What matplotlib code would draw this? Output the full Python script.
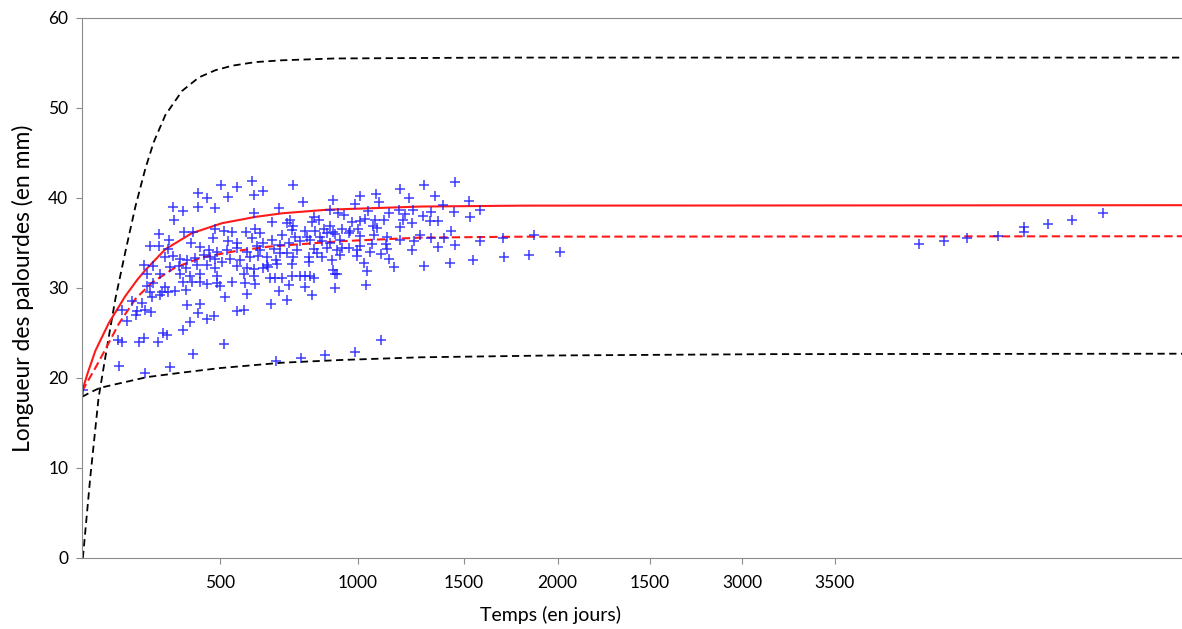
import matplotlib
matplotlib.use("Agg")
import matplotlib.pyplot as plt

plt.rcParams['font.family'] = ['Lato', 'DejaVu Sans']

# observations: temps (jours), longueur (mm)
obs_t = [
    5,
    615, 503, 561, 419, 453, 531, 624, 329, 419, 483, 368, 334, 624, 280, 370, 402, 483, 515, 543,
    594, 628, 247, 281, 317, 394, 474, 528, 561, 616, 313, 428, 459, 489, 525, 561, 598, 634, 301,
    329, 356, 382, 410, 443, 465, 483, 507, 537, 573, 610, 640, 225, 259, 319, 350, 377, 416, 453,
    483, 561, 598, 624, 235, 283, 356, 392, 428, 489, 586, 622,
    235, 259, 301, 368, 398, 428, 453, 489, 501, 543, 592, 628, 247, 289, 313, 338, 377, 519, 598,
    283, 253, 180, 217, 144, 198, 229, 249, 196, 382, 428, 419, 453, 477, 561, 588, 162, 392, 365,
    295, 307, 132, 144, 208, 223, 277, 515, 404, 133, 319, 229,
    767, 656, 801, 912, 1007, 1067, 1076, 1154, 1185, 715, 900, 991, 927, 949, 1036, 1112, 1148,
    1172, 1200, 690, 743, 755, 840, 861, 834, 900, 979, 1009, 1025, 1061, 1094, 1166, 1197, 765,
    761, 809, 846, 878, 910, 943, 973, 1001, 1055, 1070, 1152, 646, 725, 773, 815, 864, 888, 918,
    967, 1009, 1058, 1106, 1154, 1203, 658, 688, 719, 749, 791, 828, 870, 900, 934, 1009, 1051,
    1103, 646, 695, 719, 743, 779, 840, 888, 924, 943, 970, 997, 1045, 1084, 1108, 1197, 670, 704,
    767, 822, 852, 906, 997, 1112, 670, 707, 761, 822, 870, 936, 1021, 1130, 658, 676, 912, 918,
    924, 1033, 682, 701, 725, 761, 791, 809, 828, 840,
    749, 715, 809, 834, 918, 1031, 685, 743, 1085, 991, 882, 794, 704,
    1241, 1352, 1279, 1309, 1402, 1237, 1266, 1348, 1406, 1442, 1261, 1293, 1338, 1227, 1266, 1314,
    1352, 1290, 1442, 1527, 1638, 1241, 1333, 1418, 1529, 1623, 1735,
    3037, 3126, 3211, 3324, 3417, 3417, 3505, 3592, 3704,
]
obs_L = [
    18.7,
    41.9, 41.4, 41.2, 40.6, 40.0, 40.1, 40.3, 39.0, 39.0, 38.9, 38.6, 37.5, 38.3, 36.0, 36.2, 36.2,
    36.5, 36.3, 36.2, 36.2, 36.6, 34.7, 34.7, 35.3, 35.0, 35.5, 35.2, 35.0, 35.5, 34.3, 34.5, 34.2,
    34.0, 34.2, 34.4, 34.0, 34.7, 33.4, 33.5, 33.2, 33.1, 33.3, 33.7, 33.4, 33.2, 32.9, 33.2, 33.1,
    33.4, 33.6, 32.6, 32.4, 32.3, 32.4, 32.2, 32.6, 32.6, 32.2, 32.4, 32.2, 32.1, 31.5, 31.6, 31.5,
    31.3, 31.5, 31.3, 31.6, 31.3,
    30.2, 30.5, 30.1, 30.7, 30.7, 30.7, 30.4, 30.5, 30.2, 30.7, 30.5, 30.4, 29.6, 29.6, 29.5, 29.7,
    29.8, 29.0, 29.3, 29.2, 29.0, 28.5, 28.3, 27.6, 27.4, 27.6, 27.3, 27.0, 28.1, 28.2, 27.2, 26.6,
    26.9, 27.4, 27.5, 26.3, 26.2, 25.3, 25.0, 24.8, 24.2, 24.0, 24.0, 24.4, 24.0, 23.8, 22.7, 21.3,
    21.2, 20.5,
    41.4, 40.8, 39.5, 39.8, 40.2, 40.4, 39.6, 41.0, 40.0, 38.9, 38.7, 39.3, 38.3, 38.1, 38.5, 38.3,
    38.7, 38.2, 38.7, 37.3, 37.2, 37.5, 37.9, 37.6, 37.3, 36.9, 37.3, 37.4, 37.7, 37.6, 37.6, 37.6,
    37.2, 36.9, 36.4, 36.3, 36.3, 36.5, 36.2, 36.6, 36.3, 36.5, 36.9, 36.7, 36.8, 36.1, 35.9, 35.7,
    35.7, 35.7, 36.1, 36.0, 36.1, 35.8, 35.9, 35.7, 35.3, 35.2, 35.0, 35.3, 34.8, 35.0, 35.2, 35.3,
    35.2, 35.0, 35.3, 34.7, 34.9, 34.9, 34.2, 34.3, 33.9, 33.9, 34.2, 34.3, 34.4, 34.2, 34.4, 34.4,
    34.2, 34.0, 33.8, 34.3, 34.2, 33.4, 33.1, 33.4, 33.4, 33.9, 33.1, 33.5, 33.2, 32.6, 32.7, 32.7,
    32.9, 33.4, 33.7, 32.8, 32.3, 32.2, 32.3, 32.0, 31.6, 31.5, 31.9, 31.1, 31.1, 31.1, 31.3, 31.3,
    31.3, 31.3, 31.1,
    30.3, 29.7, 30.1, 29.2, 30.0, 30.3, 28.2, 28.7, 24.2, 22.9, 22.6, 22.2, 21.9,
    41.4, 41.8, 40.2, 39.2, 39.7, 38.0, 38.4, 38.4, 37.9, 38.7, 37.4, 37.4, 36.3, 35.9, 35.6, 35.5,
    34.8, 34.5, 35.2, 35.5, 35.9, 32.4, 32.8, 33.1, 33.4, 33.7, 34.0,
    34.9, 35.2, 35.5, 35.8, 36.8, 36.2, 37.1, 37.5, 38.3,
]

# courbes
fit_t = [0, 20, 48, 97, 157, 200, 230, 302, 399, 508, 629, 726, 890, 1230, 1600, 4000]
fit_L = [18.5, 20.5, 23.0, 26.1, 29.1, 30.9, 32.0, 34.3, 36.1, 37.2, 37.9, 38.3, 38.7, 39.05,
         39.15, 39.2]

med_t = [0, 20, 48, 85, 133, 194, 254, 339, 436, 557, 678, 940, 1230, 1600, 4000]
med_L = [18.5, 19.6, 21.1, 23.2, 26.0, 28.8, 30.6, 32.3, 33.4, 34.1, 34.6, 35.2, 35.6, 35.7, 35.75]

up_t = [3, 30, 60, 91, 121, 157, 194, 230, 260, 302, 363, 424, 484, 545, 629, 726, 913, 1500, 4000]
up_L = [0, 9.0, 17.8, 23.5, 28.8, 34.0, 39.1, 43.3, 46.2, 49.2, 51.9, 53.4, 54.2, 54.7, 55.1,
        55.3, 55.5, 55.6, 55.6]

low_t = [0, 30, 65, 121, 236, 363, 500, 726, 940, 1230, 1700, 2500, 4000]
low_L = [17.9, 18.4, 18.9, 19.3, 20.1, 20.6, 21.1, 21.7, 22.0, 22.3, 22.5, 22.65, 22.7]

xtick_pos = [500, 1000, 1385, 1725, 2060, 2395, 2730]
xtick_labels = ['500', '1000', '1500', '2000', '1500', '3000', '3500']

fig = plt.figure(figsize=(11.82, 6.29), dpi=100)
ax = fig.add_axes([0.0694, 0.1129, 0.9306, 0.8585])

ax.plot(up_t, up_L, color='black', ls=(0, (4, 2.5)), lw=1.3)
ax.plot(low_t, low_L, color='black', ls=(0, (4, 2.5)), lw=1.3)
ax.plot(fit_t, fit_L, color='#ff1a1a', lw=1.5)
ax.plot(med_t, med_L, color='#ff1a1a', ls=(0, (4, 2)), lw=1.5)
ax.plot(obs_t, obs_L, ls='none', marker='+', ms=6.5, mew=1.1, color='#1a1aff', alpha=0.85)

ax.set_xlim(0, 3990)
ax.set_ylim(0, 60)
ax.set_yticks(range(0, 61, 10))
ax.set_xticks(xtick_pos)
ax.set_xticklabels(xtick_labels)

for s in ['left', 'bottom', 'top']:
    ax.spines[s].set_color('#8c8c8c')
ax.spines['right'].set_visible(False)
ax.tick_params(colors='#8c8c8c', labelcolor='black', labelsize=12.5, length=4)
ax.tick_params(axis='y', pad=6)
ax.tick_params(axis='x', pad=8)

ax.set_xlabel('Temps (en jours)', fontsize=14)
ax.xaxis.set_label_coords(0.4255, -0.088)
ax.set_ylabel('Longueur des palourdes (en mm)', fontsize=16.5, labelpad=10)

plt.savefig('out.png', dpi=100)
